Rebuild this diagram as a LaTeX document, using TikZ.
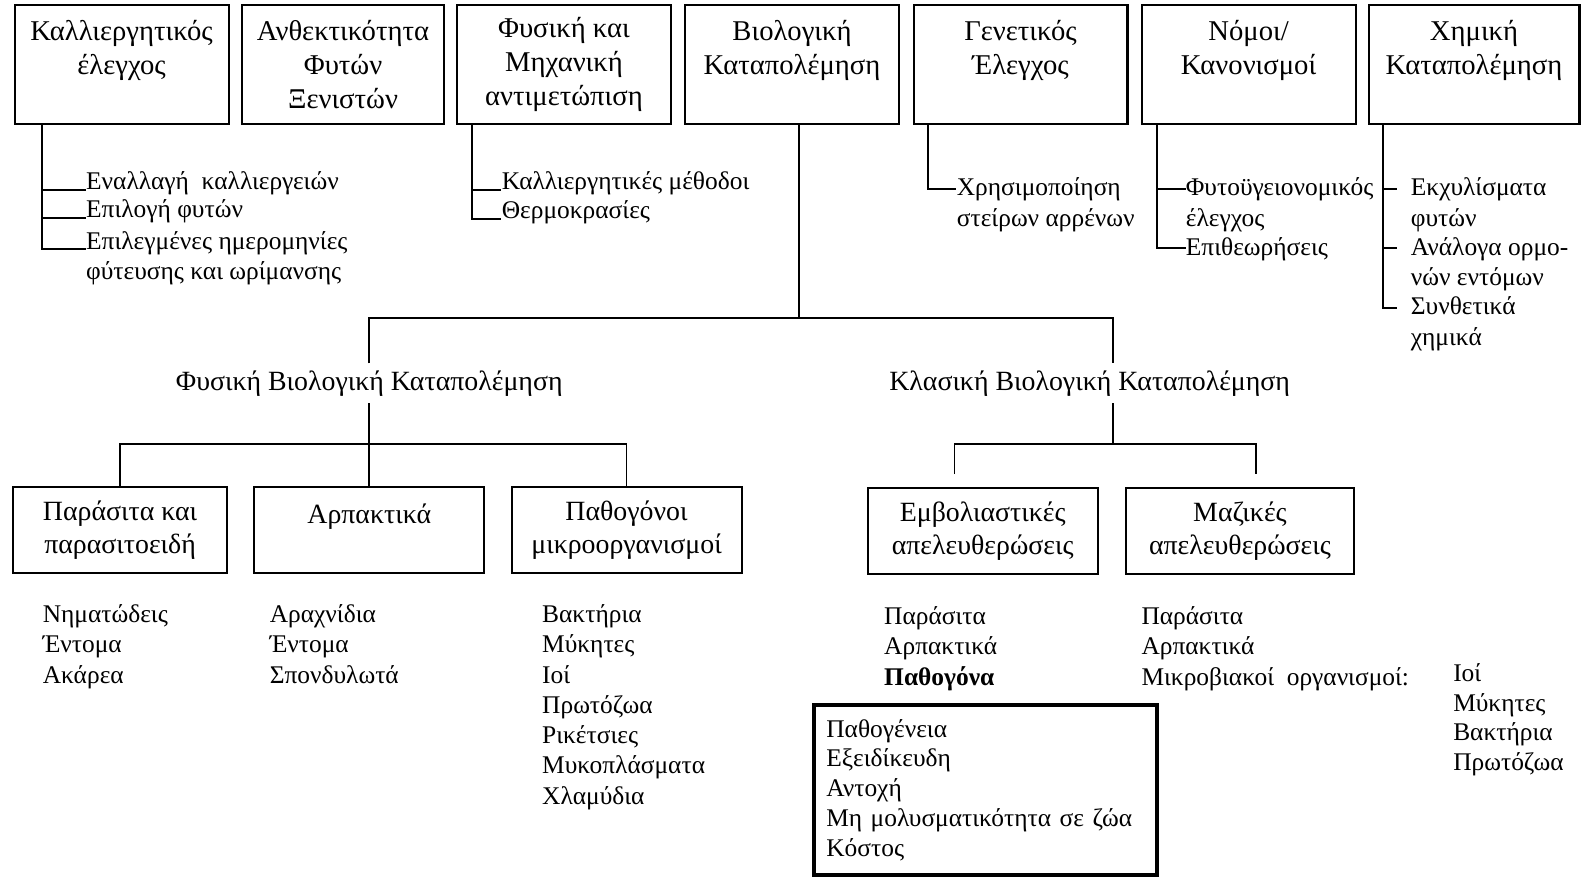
\documentclass[tikz,border=0pt]{standalone}
\usepackage{fontspec}
\setmainfont{Liberation Serif}
\tikzset{
  topbox/.style={draw, line width=1pt, align=center, minimum width=106pt, minimum height=59pt,
    inner sep=2pt, font=\fontsize{14.2}{16.75}\selectfont},
  lowbox/.style={draw, line width=1pt, align=center, minimum width=114pt, minimum height=42.5pt,
    font=\fontsize{13.8}{16}\selectfont},
  item/.style={anchor=base west, inner sep=0pt, font=\fontsize{12.6}{15}\selectfont},
  head/.style={font=\fontsize{13.8}{16}\selectfont},
  link/.style={line width=0.9pt},
  critbox/.style={draw, line width=2pt, anchor=north west, align=left, text width=158pt,
    minimum height=84pt, inner xsep=6pt, font=\fontsize{12.6}{14.75}\selectfont}
}
\begin{document}
\begin{tikzpicture}[x=0.5pt, y=-0.5pt]
  \useasboundingbox (0,0) rectangle (1568,869);
  % top row of methods
  \node[topbox] (cult) at (120.5,64) {Καλλιεργητικός\\έλεγχος\\\vphantom{Ξ}};
  \node[topbox, minimum width=100pt] (host) at (340,64) {Ανθεκτικότητα\\Φυτών\\Ξενιστών};
  \node[topbox] (mech) at (559,64) {Φυσική και\\Μηχανική\\αντιμετώπιση};
  \node[topbox] (bio) at (785,64) {Βιολογική\\Καταπολέμηση\\\vphantom{Ξ}};
  \node[topbox] (gen) at (1011.5,64) {Γενετικός\\Έλεγχος\\\vphantom{Ξ}};
  \node[topbox] (law) at (1237.5,64) {Νόμοι/\\Κανονισμοί\\\vphantom{Ξ}};
  \node[topbox, minimum width=104.5pt] (chem) at (1461,64) {Χημική\\Καταπολέμηση\\\vphantom{Ξ}};

  % sub-items of the top boxes
  \node[item] (ca) at (85,188) {Εναλλαγή \ καλλιεργειών};
  \node[item] (cb) at (85,216) {Επιλογή φυτών};
  \node[item] (cc) at (85,247) {Επιλεγμένες ημερομηνίες};
  \node[item] (cc2) at (85,277) {φύτευσης και ωρίμανσης};
  \node[item] (ma) at (497,188) {Καλλιεργητικές μέθοδοι};
  \node[item] (mb) at (497,217) {Θερμοκρασίες};
  \node[item] (ga) at (948,194) {Χρησιμοποίηση};
  \node[item] (ga2) at (948,224) {στείρων αρρένων};
  \node[item] (na) at (1175,194) {Φυτοϋγειονομικός};
  \node[item] (na2) at (1175,224) {έλεγχος};
  \node[item] (nb) at (1175,253) {Επιθεωρήσεις};
  \node[item] (xa) at (1398,194) {Εκχυλίσματα};
  \node[item] (xa2) at (1398,224) {φυτών};
  \node[item] (xb) at (1398,253) {Ανάλογα ορμο-};
  \node[item] (xb2) at (1398,283) {νών εντόμων};
  \node[item] (xc) at (1398,312) {Συνθετικά};
  \node[item] (xc2) at (1398,342) {χημικά};

  \coordinate (t1) at (42,0);
  \coordinate (t3) at (468,0);
  \coordinate (t5) at (920,0);
  \coordinate (t6) at (1147,0);
  \coordinate (t7) at (1371,0);
  \draw[link] (t1 |- cult.south) |- (ca.base west);
  \draw[link] (t1 |- cult.south) |- (cb.base west);
  \draw[link] (t1 |- cult.south) |- (cc.base west);
  \draw[link] (t3 |- mech.south) |- (ma.base west);
  \draw[link] (t3 |- mech.south) |- (mb.base west);
  \draw[link] (t5 |- gen.south) |- ([yshift=3.5pt]ga.base west);
  \draw[link] (t6 |- law.south) |- ([yshift=3.5pt]na.base west);
  \draw[link] (t6 |- law.south) |- ([yshift=3.5pt]nb.base west);
  \draw[link] (t7 |- chem.south) |- ([xshift=-6.5pt, yshift=3.5pt]xa.base west);
  \draw[link] (t7 |- chem.south) |- ([xshift=-6.5pt, yshift=3.5pt]xb.base west);
  \draw[link] (t7 |- chem.south) |- ([xshift=-6.5pt, yshift=3.5pt]xc.base west);

  % biological control branches
  \node[head] (fbk) at (366,380) {Φυσική Βιολογική Καταπολέμηση};
  \node[head] (kbk) at (1080,380) {Κλασική Βιολογική Καταπολέμηση};
  \coordinate (jb) at (792,315);
  \coordinate (kr) at (1103,315);
  \draw[link] (bio.south -| jb) -- (jb);
  \draw[link] (fbk.north) |- (kr) -- (kr |- kbk.north);

  \node[lowbox, minimum width=106pt] (par) at (119,525.5) {Παράσιτα και\\παρασιτοειδή};
  \node[lowbox] (arp) at (366,525.5) {Αρπακτικά\\\vphantom{Ξ}};
  \node[lowbox] (pat) at (621,525.5) {Παθογόνοι\\μικροοργανισμοί};
  \node[lowbox] (emb) at (974,526.5) {Εμβολιαστικές\\απελευθερώσεις};
  \node[lowbox, minimum width=113pt] (maz) at (1229,526.5) {Μαζικές\\απελευθερώσεις};

  \coordinate (fj) at (366,440);
  \draw[link] (fbk.south) -- (arp.north);
  \draw[link] (par.north) |- (fj) -| (pat.north);
  \coordinate (kj) at (1103,440);
  \coordinate (kl) at (946,470);
  \coordinate (km) at (1245,470);
  \draw[link] (kj |- kbk.south) -- (kj);
  \draw[link] (kl) |- (kj) -| (km);

  % organisms
  \node[item] (pa1) at (42,617) {Νηματώδεις};
  \node[item] (pa2) at (42,647) {Έντομα};
  \node[item] (pa3) at (42,677) {Ακάρεα};
  \node[item] (ar1) at (267,617) {Αραχνίδια};
  \node[item] (ar2) at (267,647) {Έντομα};
  \node[item] (ar3) at (267,677) {Σπονδυλωτά};
  \node[item] (pm1) at (537,617) {Βακτήρια};
  \node[item] (pm2) at (537,647) {Μύκητες};
  \node[item] (pm3) at (537,677) {Ιοί};
  \node[item] (pm4) at (537,707) {Πρωτόζωα};
  \node[item] (pm5) at (537,737) {Ρικέτσιες};
  \node[item] (pm6) at (537,767) {Μυκοπλάσματα};
  \node[item] (pm7) at (537,797) {Χλαμύδια};
  \node[item] (eb1) at (876,619) {Παράσιτα};
  \node[item] (eb2) at (876,649) {Αρπακτικά};
  \node[item] (eb3) at (876,679) {\textbf{Παθογόνα}};
  \node[critbox] (crit) at (805,697) {Παθογένεια\\Εξειδίκευδη\\Αντοχή\\Μη μολυσματικότητα σε ζώα\\Κόστος};
  \node[item] (mz1) at (1131,619) {Παράσιτα};
  \node[item] (mz2) at (1131,649) {Αρπακτικά};
  \node[item] (mz3) at (1131,679) {Μικροβιακοί \ οργανισμοί:};
  \node[item] (mo1) at (1440,675) {Ιοί};
  \node[item] (mo2) at (1440,705) {Μύκητες};
  \node[item] (mo3) at (1440,734) {Βακτήρια};
  \node[item] (mo4) at (1440,764) {Πρωτόζωα};
\end{tikzpicture}
\end{document}
